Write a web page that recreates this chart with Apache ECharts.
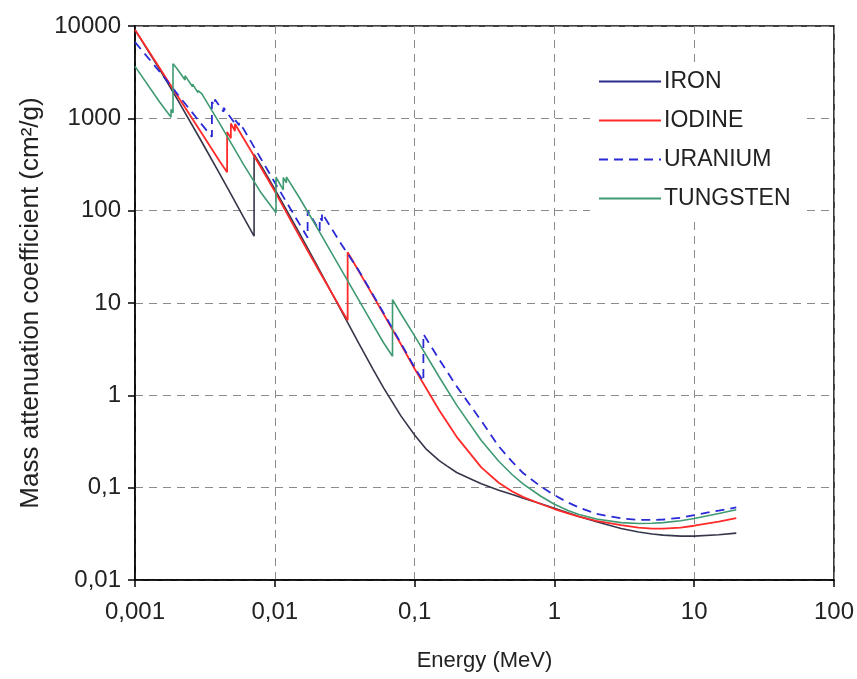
<!DOCTYPE html>
<html>
<head>
<meta charset="utf-8">
<script src="https://cdn.jsdelivr.net/npm/echarts@6/dist/echarts.min.js"></script>
<style>
html,body{margin:0;padding:0;background:#fff;}
#attn{width:857px;height:679px;}
</style>
</head>
<body>
<div id="attn"></div>
<script>
// tick labels (comma decimals as in the original figure)
var xTickLabels = ['0,001', '0,01', '0,1', '1', '10', '100'];
var yTickLabels = ['0,01', '0,1', '1', '10', '100', '1000', '10000'];

// energy (MeV) / mass attenuation coefficient (cm2/g), edges repeated at same energy
var ironE  = [0.001,0.0015,0.002,0.003,0.004,0.005,0.006,0.00711,0.00711,0.008,0.01,0.015,0.02,0.03,0.04,0.05,0.06,0.08,0.1,0.12,0.15,0.17,0.2,0.25,0.3,0.4,0.5,0.6,0.8,1,1.25,1.5,2,3,4,5,6,8,10,15,20];
var ironMu = [9085,3399,1626,557.6,256.7,139.5,84.3,53,407,305.6,170.6,57.1,25.7,8.18,3.63,1.96,1.205,0.595,0.372,0.265,0.196,0.172,0.146,0.125,0.110,0.094,0.0841,0.0770,0.0670,0.0600,0.0535,0.0488,0.0427,0.0362,0.0331,0.0315,0.0306,0.0299,0.0299,0.0309,0.0322];

var iodineE  = [0.001,0.0015,0.002,0.003,0.004,0.00456,0.00456,0.00485,0.00485,0.00519,0.00519,0.006,0.008,0.01,0.015,0.02,0.03,0.0332,0.0332,0.04,0.05,0.06,0.08,0.1,0.15,0.2,0.3,0.4,0.5,0.6,0.8,1,1.25,1.5,2,3,4,5,6,8,10,15,20];
var iodineMu = [9100,3500,1780,690,350,260,710,610,880,730,870,600,290,162,53,24.5,8.4,6.5,35.5,21.9,12.3,7.6,3.55,1.94,0.69,0.355,0.166,0.113,0.091,0.079,0.0665,0.0587,0.0528,0.0487,0.0437,0.0392,0.0370,0.0360,0.0360,0.0370,0.0387,0.0428,0.0468];

var uraniumE  = [0.001,0.0015,0.002,0.003,0.00355,0.00355,0.00373,0.00373,0.0043,0.0043,0.00518,0.00518,0.00555,0.00555,0.006,0.008,0.01,0.015,0.01717,0.01717,0.02095,0.02095,0.02176,0.02176,0.03,0.04,0.05,0.06,0.08,0.1,0.1156,0.1156,0.15,0.2,0.3,0.4,0.5,0.6,0.8,1,1.25,1.5,2,3,4,5,6,8,10,15,20];
var uraniumMu = [6700,3200,1850,860,630,1500,1380,1600,1180,1300,880,970,840,900,760,360,202,72,51,101,60,85,78,94,43,22.3,12.5,7.8,3.65,2.0,1.42,4.6,2.45,1.25,0.53,0.28,0.19,0.143,0.103,0.083,0.069,0.061,0.052,0.0465,0.0448,0.0447,0.0452,0.0472,0.0505,0.0565,0.061];

var tungstenE  = [0.001,0.0015,0.00181,0.00181,0.00187,0.00187,0.002,0.00228,0.00228,0.00258,0.00258,0.00282,0.00282,0.003,0.004,0.005,0.006,0.008,0.0102,0.0102,0.0115,0.0115,0.0121,0.0121,0.015,0.02,0.03,0.04,0.05,0.06,0.0695,0.0695,0.08,0.1,0.15,0.2,0.3,0.4,0.5,0.6,0.8,1,1.25,1.5,2,3,4,5,6,8,10,15,20];
var tungstenMu = [3650,1500,1030,1250,1150,3900,3450,2600,2900,2200,2350,1900,2000,1850,900,504,313,155,95,230,168,228,200,232,138,66,22.7,10.7,5.95,3.71,2.65,10.9,7.6,4.4,1.58,0.784,0.324,0.193,0.138,0.109,0.0807,0.0662,0.0567,0.0512,0.0457,0.0418,0.0409,0.0411,0.0418,0.0438,0.0463,0.0524,0.0576];

var font = "'Liberation Sans', Arial, sans-serif";

function pairs(xs, ys){
	var out = [];
	for(var i=0;i<xs.length;i++){
		out.push([xs[i], ys[i]]);
	}
	return out;
}

var myChart = echarts.init(document.getElementById('attn'));
var option = {
	animation: false,
	backgroundColor: '#fff',
	grid: {
		left: 135, right: 23, top: 26, bottom: 99,
		show: true, borderColor: '#000', borderWidth: 1.5
	},
	legend: {
		orient: 'vertical',
		left: 590, top: 64,
		backgroundColor: '#fff',
		padding: [6, 12, 8, 8],
		itemWidth: 62, itemHeight: 14, itemGap: 16,
		itemStyle: {opacity: 0},
		textStyle: {fontSize: 23, fontFamily: font, color: '#222', padding: [0, 0, 0, -2]},
		data: [
			{name: 'IRON', lineStyle: {color: '#2c2c8c'}},
			'IODINE', 'URANIUM', 'TUNGSTEN'
		]
	},
	xAxis: {
		type: 'log', logBase: 10, min: 0.001, max: 100,
		name: 'Energy (MeV)', nameLocation: 'middle', nameGap: 70,
		nameTextStyle: {fontSize: 22, fontFamily: font, color: '#222'},
		axisLine: {lineStyle: {color: '#000', width: 1.5}},
		axisTick: {length: 7, lineStyle: {color: '#000', width: 1.5}},
		axisLabel: {
			fontSize: 24, fontFamily: font, color: '#222', margin: 20,
			formatter: function(v){ return xTickLabels[Math.round(Math.log10(v)) + 3]; }
		},
		splitLine: {show: true, lineStyle: {color: '#8a8a8a', type: [8, 6], width: 1}}
	},
	yAxis: {
		type: 'log', logBase: 10, min: 0.01, max: 10000,
		name: 'Mass attenuation coefficient (cm\u00b2/g)', nameLocation: 'middle', nameGap: 80,
		nameTextStyle: {fontSize: 26, fontFamily: font, color: '#222'},
		axisLine: {lineStyle: {color: '#000', width: 1.5}},
		axisTick: {length: 7, lineStyle: {color: '#000', width: 1.5}},
		axisLabel: {
			fontSize: 24, fontFamily: font, color: '#222', margin: 14,
			formatter: function(v){ return yTickLabels[Math.round(Math.log10(v)) + 2]; }
		},
		splitLine: {show: true, lineStyle: {color: '#8a8a8a', type: [8, 6], width: 1}}
	},
	series: [
		{
			name: 'IRON', type: 'line', symbol: 'none',
			data: pairs(ironE, ironMu),
			lineStyle: {color: '#36364a', width: 1.6}, itemStyle: {color: '#36364a'}
		},
		{
			name: 'IODINE', type: 'line', symbol: 'none',
			data: pairs(iodineE, iodineMu),
			lineStyle: {color: '#ff2a2a', width: 1.8}, itemStyle: {color: '#ff2a2a'}
		},
		{
			name: 'URANIUM', type: 'line', symbol: 'none',
			data: pairs(uraniumE, uraniumMu),
			lineStyle: {color: '#2a2ad6', width: 1.8, type: [9, 6]}, itemStyle: {color: '#2a2ad6'}
		},
		{
			name: 'TUNGSTEN', type: 'line', symbol: 'none',
			data: pairs(tungstenE, tungstenMu),
			lineStyle: {color: '#3f9a72', width: 1.6}, itemStyle: {color: '#3f9a72'}
		}
	]
};
myChart.setOption(option);
</script>
</body>
</html>
